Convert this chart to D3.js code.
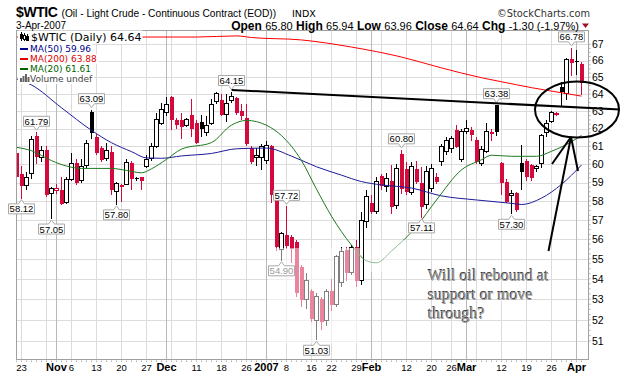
<!DOCTYPE html>
<html>
<head>
<meta charset="utf-8">
<script src="https://cdn.jsdelivr.net/npm/d3@7/dist/d3.min.js"></script>
<style>
  body { margin: 0; background: #fff; }
  svg { font-family: "Liberation Sans", Arial, sans-serif; }
</style>
</head>
<body>
<svg id="chart" width="620" height="376"></svg>
<script>
// trading days, Oct 20 2006 .. Apr 3 2007
const dates = [
  "10/20","10/23","10/24","10/25","10/26","10/27","10/30","10/31",
  "11/01","11/02","11/03","11/06","11/07","11/08","11/09","11/10","11/13","11/14","11/15","11/16","11/17",
  "11/20","11/21","11/22","11/23","11/24","11/27","11/28","11/29","11/30",
  "12/01","12/04","12/05","12/06","12/07","12/08","12/11","12/12","12/13","12/14","12/15",
  "12/18","12/19","12/20","12/21","12/22","12/26","12/27","12/28","12/29",
  "01/02","01/03","01/04","01/05","01/08","01/09","01/10","01/11","01/12","01/16","01/17","01/18","01/19",
  "01/22","01/23","01/24","01/25","01/26","01/29","01/30","01/31",
  "02/01","02/02","02/05","02/06","02/07","02/08","02/09","02/12","02/13","02/14","02/15","02/16",
  "02/20","02/21","02/22","02/23","02/26","02/27","02/28",
  "03/01","03/02","03/05","03/06","03/07","03/08","03/09","03/12","03/13","03/14","03/15","03/16",
  "03/19","03/20","03/21","03/22","03/23","03/26","03/27","03/28","03/29","03/30",
  "04/02","04/03"
];
const opens = [
  60.6,59.45,58.85,59.5,61.6,60.4,60.8,58.4,
  58.55,58.6,57.9,59.15,60.05,59.1,59.95,62.95,61.5,60.9,60.3,60.7,58.5,
  58.85,58.9,60.05,59.25,59.3,59.9,60.3,61.0,62.3,
  62.9,63.85,62.5,62.5,62.2,62.8,62.3,62.4,61.8,62.3,63.55,
  63.65,62.8,63.6,63.75,63.0,62.6,60.9,60.35,60.4,
  60.2,61.0,58.25,55.45,56.2,56.1,55.85,54.6,53.0,53.4,51.95,53.0,51.95,
  53.4,52.75,53.8,55.45,54.3,55.6,53.9,56.9,
  57.9,57.45,59.35,58.8,59.1,57.75,60.55,59.75,58.45,59.75,58.95,57.8,
  58.7,59.3,60.14,60.7,60.85,61.92,60.25,
  61.83,61.92,61.36,60.05,60.7,61.8,63.35,60.05,59.05,58.3,58.42,60.05,
  60.2,59.96,59.77,60.05,61.75,62.4,62.8,64.43,64.06,66.08,
  66.0,65.80
];
const highs = [
  60.9,59.9,59.6,61.6,61.79,61.0,61.0,58.75,
  58.9,59.3,59.3,60.6,60.3,60.3,61.35,63.09,61.7,61.0,61.2,61.0,59.05,
  58.9,60.3,60.2,59.3,59.3,60.5,61.2,62.9,63.5,
  63.8,63.9,62.6,62.9,62.6,63.7,62.5,62.8,62.7,63.7,64.1,
  64.0,64.0,64.15,63.8,63.4,63.4,61.0,60.9,61.1,
  61.3,61.05,58.3,56.4,57.72,56.2,55.95,54.7,54.3,53.5,53.3,53.1,53.5,
  54.0,55.2,55.6,55.6,55.7,55.95,57.4,58.6,
  58.3,59.3,59.45,59.5,59.95,60.0,60.8,60.1,60.1,60.2,59.86,59.9,
  60.0,59.5,61.1,61.5,61.6,62.2,62.0,
  62.5,62.1,61.5,61.0,62.3,62.0,63.38,60.1,59.2,58.6,58.5,61.05,
  60.3,60.0,59.95,61.7,62.47,63.0,62.95,64.72,66.15,66.78,
  66.65,65.94
];
const lows = [
  59.2,58.12,58.6,59.2,60.0,60.1,58.2,57.05,
  58.4,57.8,57.85,59.1,58.85,59.0,59.8,61.4,60.5,60.1,60.2,58.35,57.8,
  57.95,58.85,58.6,59.1,58.6,59.8,60.2,60.9,62.2,
  62.7,61.9,62.0,61.4,62.1,61.5,61.1,61.5,61.6,62.2,63.4,
  62.7,62.4,63.5,62.8,62.5,61.0,60.0,59.9,59.7,
  60.0,57.9,55.4,54.9,55.5,54.8,53.1,52.6,52.5,51.9,51.03,51.5,51.7,
  52.4,52.6,53.6,53.9,54.2,53.6,53.7,56.6,
  57.3,57.3,58.6,58.5,57.3,57.6,58.4,58.3,58.3,58.9,57.11,57.6,
  58.5,58.9,59.9,60.5,60.6,60.9,60.1,
  61.7,61.3,60.0,59.9,60.6,61.3,61.6,58.3,57.9,57.3,57.4,58.6,
  59.1,59.1,59.6,59.77,61.54,62.3,62.7,63.3,63.66,65.05,
  65.12,63.96
];
const closes = [
  59.3,58.8,59.3,61.4,60.4,60.75,58.3,58.7,
  58.65,57.85,59.15,60.05,58.95,59.85,61.15,61.75,60.6,60.25,60.75,58.6,58.95,
  58.75,60.1,59.2,59.22,59.1,60.25,61.0,62.5,63.1,
  63.4,62.5,62.2,62.1,62.5,62.0,61.2,62.0,62.2,63.4,64.05,
  62.8,63.45,63.85,62.9,62.75,61.1,60.15,60.5,61.0,
  61.05,58.3,55.6,56.3,55.65,55.5,53.3,52.95,53.9,52.05,53.15,51.9,53.35,
  52.7,55.1,55.35,54.3,55.6,53.9,57.0,58.25,
  57.4,59.05,58.8,59.2,57.7,59.75,58.65,58.5,59.85,59.05,57.7,59.6,
  59.75,59.05,60.98,61.35,61.44,60.98,61.83,
  62.02,61.64,60.14,60.8,61.83,61.7,61.83,58.96,57.97,58.38,57.55,59.55,
  59.3,59.23,59.86,61.6,62.28,62.9,62.85,64.1,66.05,65.87,
  65.94,64.64
];

// moving averages
const ma50Dates = ["10/20","10/25","11/02","11/10","11/16","11/22","11/27","11/30","12/06","12/14","12/21",
  "01/02","01/09","01/17","01/24","01/30","02/05","02/13","02/22","03/05","03/14","03/16","03/22","03/28","04/03"];
const ma50Vals = [64.9,64.54,63.2,61.9,61.2,60.7,60.35,60.33,60.46,60.6,60.86,
  60.9,60.45,59.86,59.4,59.05,58.87,58.7,58.28,58.06,57.88,57.82,58.16,58.9,59.96];

const ma200Dates = ["10/20","11/27","12/11","12/21","12/27","01/11","01/26","02/09","02/22","03/06","03/12","03/20","03/29","04/03"];
const ma200Vals = [67.45,67.45,67.45,67.52,67.42,67.27,66.83,66.22,65.56,64.97,64.73,64.38,64.03,63.88];

const ma20Dates = ["10/20","10/25","10/31","11/03","11/08","11/16","11/21","11/24","11/28","12/01","12/06","12/14",
  "12/20","12/26","01/02","01/05","01/11","01/17","01/22","01/26","01/31","02/02","02/07","02/14","02/21",
  "02/28","03/06","03/08","03/14","03/21","03/26","03/29","04/03"];
const ma20Vals = [60.94,60.75,60.2,59.9,59.77,59.77,59.66,59.53,59.75,60.27,60.84,61.21,
  62.2,62.47,62.19,61.6,60.2,58.64,57.2,55.7,54.9,54.8,55.4,56.66,58.06,
  59.69,60.25,60.5,60.44,60.44,60.72,61.1,61.61];

// axes
const priceTicks = [51,52,53,54,55,56,57,58,59,60,61,62,63,64,65,66,67];
const weekDates = ["10/23","10/30","11/06","11/13","11/20","11/27","12/04","12/11","12/18","12/26",
  "01/02","01/08","01/16","01/22","01/29","02/05","02/12","02/20","02/26","03/05","03/12","03/19","03/26","04/02"];
const monthDates = ["11/01","12/01","01/02","02/01","03/01","04/02"];
const tickDates = ["10/23","11/01","11/06","11/13","11/20","11/27","12/01","12/11","12/18","12/26","01/02","01/08",
  "01/16","01/22","01/29","02/01","02/12","02/20","02/26","03/01","03/12","03/19","03/26","04/02"];
const tickLabels = ["23","Nov","6","13","20","27","Dec","11","18","26","2007","8",
  "16","22","29","Feb","12","20","26","Mar","12","19","26","Apr"];

// callouts on highs and lows
const highMarks = ["10/26","11/10","12/20","01/08","02/09","03/09","03/30"];
const lowMarks = ["10/23","10/31","11/17","01/05","01/17","02/15","03/14"];

const note = ["Will oil rebound at", "support or move", "through?"];

const svg = d3.select("#chart");
const L = 16.5, R = 588.5, T = 30.5, B = 359.5;
const RED = "#d40a3c";

const x = d3.scalePoint().domain(dates).range([16.5, 581.5]);
const y = d3.scaleLog().domain([51, 67]).range([340.9, 44.3]);

svg.append("defs").append("clipPath").attr("id", "plot")
  .append("rect").attr("x", L + 0.5).attr("y", T + 0.5).attr("width", R - L - 1).attr("height", B - T - 1);

// grid
const grid = svg.append("g").attr("shape-rendering", "crispEdges");
grid.selectAll(".hg").data(priceTicks).join("line")
  .attr("x1", L).attr("x2", R)
  .attr("y1", d => Math.round(y(d)) + 0.5).attr("y2", d => Math.round(y(d)) + 0.5)
  .attr("stroke", "#dcdcdc");
grid.selectAll(".vg").data(weekDates).join("line")
  .attr("x1", d => x(d)).attr("x2", d => x(d)).attr("y1", T).attr("y2", B)
  .attr("stroke", "#dcdcdc");
grid.selectAll(".mg").data(monthDates).join("line")
  .attr("x1", d => x(d)).attr("x2", d => x(d)).attr("y1", T).attr("y2", B)
  .attr("stroke", "#b9b9b9");

// candles
const bars = dates.map((d, i) => ({
  d, o: opens[i], h: highs[i], l: lows[i], c: closes[i],
  col: (i === 0 || closes[i] < closes[i - 1]) ? RED : "#000"
}));
const cg = svg.append("g").attr("clip-path", "url(#plot)").attr("shape-rendering", "crispEdges");
cg.selectAll(".wick").data(bars).join("line")
  .attr("x1", b => x(b.d)).attr("x2", b => x(b.d))
  .attr("y1", b => y(b.h)).attr("y2", b => y(b.l))
  .attr("stroke", b => b.col);
cg.selectAll(".body").data(bars).join("rect")
  .attr("x", b => x(b.d) - 2)
  .attr("width", 4)
  .attr("y", b => y(Math.max(b.o, b.c)))
  .attr("height", b => Math.max(1, Math.abs(y(b.o) - y(b.c))))
  .attr("fill", b => b.c >= b.o ? "#fff" : b.col)
  .attr("stroke", b => b.c >= b.o ? b.col : "none");

// moving averages
const maLine = (ds, vs) => d3.line().curve(d3.curveMonotoneX)
  .x((v, i) => x(ds[i])).y(v => y(v))(vs);
const mg = svg.append("g").attr("clip-path", "url(#plot)").attr("fill", "none");
mg.append("path").attr("d", maLine(ma200Dates, ma200Vals)).attr("stroke", "#f00");
mg.append("path").attr("d", maLine(ma50Dates, ma50Vals)).attr("stroke", "#1c1c9a");
mg.append("path").attr("d", maLine(ma20Dates, ma20Vals)).attr("stroke", "#1e7a1e");

// washed-out patch of the original image
svg.append("rect").attr("x", 268).attr("y", 248).attr("width", 92).attr("height", 95)
  .attr("fill", "#fff").attr("opacity", 0.5);
svg.append("rect").attr("x", 364).attr("y", 240).attr("width", 42).attr("height", 32)
  .attr("fill", "#fff").attr("opacity", 0.5);

// frame + ticks
svg.append("rect").attr("x", L).attr("y", T).attr("width", R - L).attr("height", B - T)
  .attr("fill", "none").attr("stroke", "#a0a0a0").attr("shape-rendering", "crispEdges");
svg.append("g").selectAll("line").data(dates).join("line")
  .attr("x1", d => x(d)).attr("x2", d => x(d)).attr("y1", B + 1).attr("y2", B + 2.5)
  .attr("stroke", "#b0b0b0");
const minor = d3.range(51, 67.01, 0.25);
svg.append("g").selectAll("line").data(minor).join("line")
  .attr("x1", R).attr("x2", R + 2).attr("y1", d => y(d)).attr("y2", d => y(d))
  .attr("stroke", "#b0b0b0");

svg.append("g").selectAll("text").data(priceTicks).join("text")
  .attr("x", 592).attr("y", d => y(d)).attr("dy", "0.36em")
  .attr("font-size", 10.5).text(d => d);

const isMonth = t => isNaN(+t) || t === "2007";
svg.append("g").selectAll("text").data(tickDates).join("text")
  .attr("x", d => x(d)).attr("y", 370.5).attr("text-anchor", "middle")
  .attr("font-size", (d, i) => isMonth(tickLabels[i]) ? 11 : 9.5)
  .attr("font-weight", (d, i) => isMonth(tickLabels[i]) ? "bold" : "normal")
  .text((d, i) => tickLabels[i]);

// callouts
function callout(d, val, above, color) {
  const cx = x(d), w = 26, h = 10;
  const g = svg.append("g");
  let path, yb;
  if (above) {
    yb = y(val) - 6;
    const yt = yb - h;
    path = `M${cx - w / 2},${yt}H${cx + w / 2}V${yb}H${cx + 3}L${cx},${yb + 4}L${cx - 3},${yb}H${cx - w / 2}Z`;
  } else {
    const yt = y(val) + 5;
    yb = yt + h;
    path = `M${cx - w / 2},${yt}H${cx - 3}L${cx},${yt - 4}L${cx + 3},${yt}H${cx + w / 2}V${yb}H${cx - w / 2}Z`;
  }
  g.append("path").attr("d", path).attr("fill", "#fff").attr("stroke", "#a8a8a8");
  g.append("text").attr("x", cx).attr("y", yb - 1.5).attr("text-anchor", "middle")
    .attr("font-size", 9.5).attr("fill", color).text(val.toFixed(2));
}
highMarks.forEach(d => callout(d, highs[dates.indexOf(d)], true, "#000"));
lowMarks.forEach(d => callout(d, lows[dates.indexOf(d)], false, d === "01/05" ? "#999" : "#000"));

// legend
const last = dates.length - 1;
const leg = [
  { t: `$WTIC (Daily) ${closes[last].toFixed(2)}`, c: "#000", fs: 11, yb: 40.5, x: 31 },
  { t: `MA(50) ${ma50Vals[ma50Vals.length - 1].toFixed(2)}`, c: "#00008b", fs: 9, yb: 52, x: 30, sw: "#00008b" },
  { t: `MA(200) ${ma200Vals[ma200Vals.length - 1].toFixed(2)}`, c: "#e00000", fs: 9, yb: 62, x: 30, sw: "#e00000" },
  { t: `MA(20) ${ma20Vals[ma20Vals.length - 1].toFixed(2)}`, c: "#006400", fs: 9, yb: 72, x: 30, sw: "#006400" },
  { t: "Volume undef", c: "#444", fs: 9, yb: 82, x: 30 }
];
const lg = svg.append("g");
leg.forEach(e => {
  const bg = lg.append("rect").attr("fill", "#fff");
  const tx = lg.append("text").attr("x", e.x).attr("y", e.yb).attr("font-size", e.fs)
    .attr("fill", e.c).style("font-family", "DejaVu Sans").text(e.t);
  const bb = tx.node().getBBox();
  bg.attr("x", 18).attr("y", bb.y).attr("width", bb.x + bb.width - 17).attr("height", bb.height);
  if (e.sw) lg.append("line").attr("x1", 20).attr("x2", 28).attr("y1", e.yb - 3).attr("y2", e.yb - 3)
    .attr("stroke", e.sw).attr("stroke-width", 2);
});
// small candle icon + volume icon
const ic = lg.append("g").attr("stroke", "#000").attr("shape-rendering", "crispEdges");
[21.5, 24.5, 27.5].forEach((px, i) => {
  ic.append("line").attr("x1", px).attr("x2", px).attr("y1", 32 + i).attr("y2", 41);
  ic.append("rect").attr("x", px - 1).attr("y", 34 + i).attr("width", 2).attr("height", 4).attr("fill", i === 1 ? "#fff" : "#000");
});
[[20, 4], [22.5, 6], [25, 8], [27.5, 5]].forEach(([px, hh]) =>
  lg.append("rect").attr("x", px).attr("y", 82 - hh).attr("width", 2).attr("height", hh).attr("fill", "#666"));

// header
svg.append("text").attr("x", 16).attr("y", 16.5).attr("font-size", 14).attr("letter-spacing", -0.4)
  .attr("font-weight", "bold").text("$WTIC");
svg.append("text").attr("x", 61.5).attr("y", 16.5).attr("font-size", 10.2).text("(Oil - Light Crude - Continuous Contract (EOD))");
svg.append("text").attr("x", 292).attr("y", 16.5).attr("font-size", 9.5).style("font-family", "DejaVu Sans").text("INDX");
svg.append("text").attr("x", 590).attr("y", 16.5).attr("font-size", 9.8).attr("text-anchor", "end")
  .attr("fill", "#333").style("font-family", "DejaVu Sans").text("\u00A9StockCharts.com");
svg.append("text").attr("x", 16).attr("y", 28.5).attr("font-size", 10).text("3-Apr-2007");

const chg = closes[last] - closes[last - 1];
const stats = [
  ["Open", opens[last].toFixed(2)], ["High", highs[last].toFixed(2)], ["Low", lows[last].toFixed(2)],
  ["Close", closes[last].toFixed(2)],
  ["Chg", `${chg.toFixed(2)} (${(chg / closes[last - 1] * 100).toFixed(2)}%)`]
];
const st = svg.append("text").attr("x", 579).attr("y", 29.5).attr("text-anchor", "end");
stats.forEach(([k, v], i) => {
  st.append("tspan").attr("font-weight", "bold").attr("font-size", 12).text((i ? " " : "") + k + " ");
  st.append("tspan").attr("font-size", 11).text(v);
});
svg.append("path").attr("d", "M582,23.5H589L585.5,28Z").attr("fill", "#a0102a");

// annotations
const ann = svg.append("g").attr("stroke", "#000").attr("stroke-width", 2).attr("fill", "none");
ann.append("line").attr("x1", 231.7).attr("y1", 90).attr("x2", 620).attr("y2", 109.5);
ann.append("ellipse").attr("cx", 577).attr("cy", 109.5).attr("rx", 42).attr("ry", 28);
ann.append("line").attr("x1", 571).attr("y1", 137).attr("x2", 548.5).attr("y2", 251);
ann.append("line").attr("x1", 571).attr("y1", 137).attr("x2", 552).attr("y2", 164);
ann.append("line").attr("x1", 571).attr("y1", 137).attr("x2", 578).attr("y2", 171);

const nt = svg.append("g").attr("font-size", 16);
note.forEach((s, i) => {
  nt.append("text").attr("x", 427.3).attr("y", 280.3 + i * 19).attr("fill", "#333")
    .style("font-family", "'Liberation Serif', 'Times New Roman', serif").text(s);
  nt.append("text").attr("x", 428).attr("y", 281 + i * 19).attr("fill", "#9a9a9a")
    .style("font-family", "'Liberation Serif', 'Times New Roman', serif").text(s);
});
</script>
</body>
</html>
